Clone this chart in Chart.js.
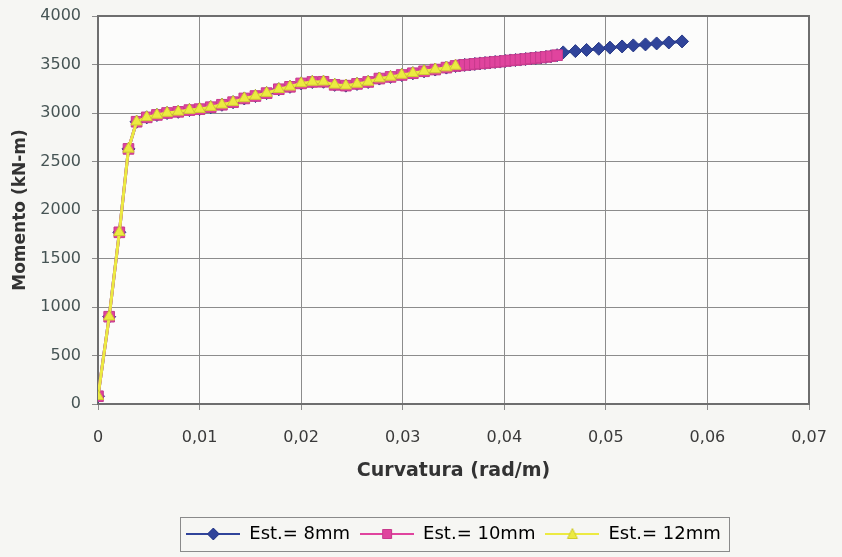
<!DOCTYPE html>
<html>
<head>
<meta charset="utf-8">
<script src="https://cdn.jsdelivr.net/npm/chart.js@4.4.0/dist/chart.umd.min.js"></script>
<style>
  html, body { margin: 0; padding: 0; background: #f6f6f3; }
  #wrap { width: 842px; height: 557px; }
</style>
</head>
<body>
<div id="wrap"><canvas id="momentChart" width="842" height="557"></canvas></div>
<script>
// series labels
const seriesNames = ['Est.= 8mm', 'Est.= 10mm', 'Est.= 12mm'];

// part of the curve shared by all three stirrup sizes (rad/m, kN-m)
const curvatureShared = [0, 0.0011, 0.0021, 0.0030, 0.0038, 0.0048, 0.0058, 0.0068, 0.0079, 0.0090,
    0.0100, 0.0111, 0.0122, 0.0133, 0.0144, 0.0155, 0.0166, 0.0178, 0.0189, 0.0200,
    0.0211, 0.0222, 0.0233, 0.0244, 0.0255, 0.0266, 0.0277, 0.0288, 0.0299, 0.0310,
    0.0321, 0.0332, 0.0343, 0.0352];
const momentShared = [80, 900, 1770, 2630, 2910, 2955, 2980, 3000, 3012, 3030,
    3040, 3060, 3085, 3112, 3150, 3175, 3205, 3245, 3270, 3305,
    3320, 3322, 3290, 3282, 3300, 3320, 3355, 3372, 3392, 3410,
    3430, 3448, 3468, 3485];

// 10mm continues past the 12mm end
const curvature10Tail = [0.0356, 0.0361, 0.0366, 0.0371, 0.0376, 0.0381, 0.0386, 0.0391, 0.0396, 0.0401,
    0.0406, 0.0411, 0.0416, 0.0421, 0.0426, 0.0431, 0.0436, 0.0441, 0.0446, 0.0452];
const moment10Tail = [3490, 3496, 3500, 3506, 3511, 3515, 3521, 3526, 3530, 3536,
    3542, 3546, 3551, 3556, 3562, 3567, 3572, 3578, 3585, 3596];

// 8mm goes furthest
const curvature8Tail = [0.0458, 0.0470, 0.0481, 0.0493, 0.0504, 0.0516, 0.0527, 0.0539, 0.0550, 0.0562, 0.0575];
const moment8Tail = [3625, 3638, 3650, 3662, 3674, 3686, 3697, 3707, 3717, 3727, 3738];

const xTickLabels = ['0', '0,01', '0,02', '0,03', '0,04', '0,05', '0,06', '0,07'];
const yTickLabels = ['0', '500', '1000', '1500', '2000', '2500', '3000', '3500', '4000'];

const seriesColors = ['#30449a', '#e0449e', '#ecea42'];
const seriesEdges = ['#283a88', '#c73a8c', '#d0cc30'];
const seriesStyles = ['rectRot', 'rect', 'triangle'];
const seriesRadius = [6.5, 7.5, 6.5];

function toPoints(xs, ys) {
    return xs.map((x, i) => ({ x: x, y: ys[i] }));
}

const series12 = toPoints(curvatureShared, momentShared);
const series10 = series12.concat(toPoints(curvature10Tail, moment10Tail));
const series8 = series10.concat(toPoints(curvature8Tail, moment8Tail));
const seriesData = [series8, series10, series12];

function makeLegendIcon(i) {
    const c = document.createElement('canvas');
    c.width = 54;
    c.height = 16;
    const ctx = c.getContext('2d');
    ctx.strokeStyle = seriesColors[i];
    ctx.lineWidth = 2;
    ctx.beginPath();
    ctx.moveTo(0, 8);
    ctx.lineTo(54, 8);
    ctx.stroke();
    ctx.fillStyle = seriesColors[i];
    ctx.strokeStyle = seriesEdges[i];
    ctx.lineWidth = 1;
    ctx.beginPath();
    if (seriesStyles[i] === 'rectRot') {
        ctx.moveTo(27, 2); ctx.lineTo(33, 8); ctx.lineTo(27, 14); ctx.lineTo(21, 8);
    } else if (seriesStyles[i] === 'rect') {
        ctx.rect(22.5, 3.5, 9, 9);
    } else {
        ctx.moveTo(27, 2.5); ctx.lineTo(32, 12.5); ctx.lineTo(22, 12.5);
    }
    ctx.closePath();
    ctx.fill();
    ctx.stroke();
    return c;
}
const legendIcons = [0, 1, 2].map(makeLegendIcon);

const backdrop = {
    id: 'backdrop',
    beforeDraw(chart) {
        const { ctx, chartArea: a } = chart;
        ctx.save();
        ctx.fillStyle = '#f6f6f3';
        ctx.fillRect(0, 0, chart.width, chart.height);
        ctx.fillStyle = '#fcfcfb';
        ctx.fillRect(a.left, a.top, a.right - a.left, a.bottom - a.top);
        ctx.restore();
    },
    beforeDatasetsDraw(chart) {
        const { ctx, chartArea: a } = chart;
        ctx.save();
        ctx.strokeStyle = '#6e6e6e';
        ctx.lineWidth = 2;
        ctx.strokeRect(a.left, a.top, a.right - a.left, a.bottom - a.top);
        ctx.restore();
    },
    afterDraw(chart) {
        const boxes = chart.legend.legendHitBoxes;
        if (!boxes || !boxes.length) return;
        const left = Math.min(...boxes.map(b => b.left)) - 6;
        const right = Math.max(...boxes.map(b => b.left + b.width)) + 9;
        const mid = boxes[0].top + boxes[0].height / 2;
        const ctx = chart.ctx;
        ctx.save();
        ctx.strokeStyle = '#8a8a8a';
        ctx.lineWidth = 1;
        ctx.strokeRect(Math.round(left) + 0.5, Math.round(mid - 17) + 0.5, Math.round(right - left), 34);
        ctx.restore();
    }
};

const ctx = document.getElementById('momentChart');

new Chart(ctx, {
    type: 'line',
    data: {
        datasets: seriesData.map((pts, i) => ({
            label: seriesNames[i],
            data: pts,
            borderColor: seriesColors[i],
            backgroundColor: seriesColors[i],
            pointBorderColor: seriesEdges[i],
            pointBackgroundColor: seriesColors[i],
            pointStyle: seriesStyles[i],
            pointRadius: seriesRadius[i],
            pointBorderWidth: 1,
            borderWidth: 3,
            tension: 0,
            order: 3 - i
        }))
    },
    options: {
        responsive: false,
        animation: false,
        events: [],
        layout: { padding: { top: 16, right: 33, bottom: 4, left: 0 } },
        plugins: {
            tooltip: { enabled: false },
            legend: {
                position: 'bottom',
                fullSize: false,
                labels: {
                    usePointStyle: true,
                    pointStyleWidth: 54,
                    padding: 10,
                    color: '#2e2e2e',
                    font: { family: 'DejaVu Sans', size: 18 },
                    generateLabels: chart => chart.data.datasets.map((ds, i) => ({
                        text: ds.label,
                        pointStyle: legendIcons[i],
                        fillStyle: ds.borderColor,
                        strokeStyle: ds.borderColor,
                        lineWidth: 0,
                        hidden: false,
                        datasetIndex: i
                    }))
                }
            }
        },
        scales: {
            x: {
                type: 'linear',
                min: 0,
                max: 0.07,
                afterFit: scale => {
                    scale.height = 111;
                    scale.paddingLeft = 0;
                    scale.paddingRight = 0;
                },
                ticks: {
                    stepSize: 0.01,
                    padding: 18,
                    color: '#3a3a3a',
                    font: { family: 'DejaVu Sans', size: 16 },
                    callback: (v, i) => xTickLabels[i]
                },
                grid: { color: '#8c8c8c', lineWidth: 1, tickLength: 6 },
                border: { color: '#6e6e6e', width: 2 },
                title: {
                    display: true,
                    text: 'Curvatura (rad/m)',
                    color: '#333',
                    font: { family: 'DejaVu Sans', size: 19, weight: 'bold' },
                    padding: { top: 0, bottom: 33 }
                }
            },
            y: {
                min: 0,
                max: 4000,
                afterFit: scale => {
                    scale.width = 98;
                    scale.paddingTop = 0;
                    scale.paddingBottom = 0;
                },
                ticks: {
                    stepSize: 500,
                    padding: 11,
                    color: '#465454',
                    font: { family: 'DejaVu Sans', size: 16 },
                    callback: (v, i) => yTickLabels[i]
                },
                grid: { color: '#8c8c8c', lineWidth: 1, tickLength: 6 },
                border: { color: '#6e6e6e', width: 2 },
                title: {
                    display: true,
                    text: 'Momento (kN-m)',
                    color: '#333',
                    font: { family: 'DejaVu Sans', size: 17, weight: 'bold' },
                    padding: { top: 10, bottom: 0 }
                }
            }
        }
    },
    plugins: [backdrop]
});
</script>
</body>
</html>
